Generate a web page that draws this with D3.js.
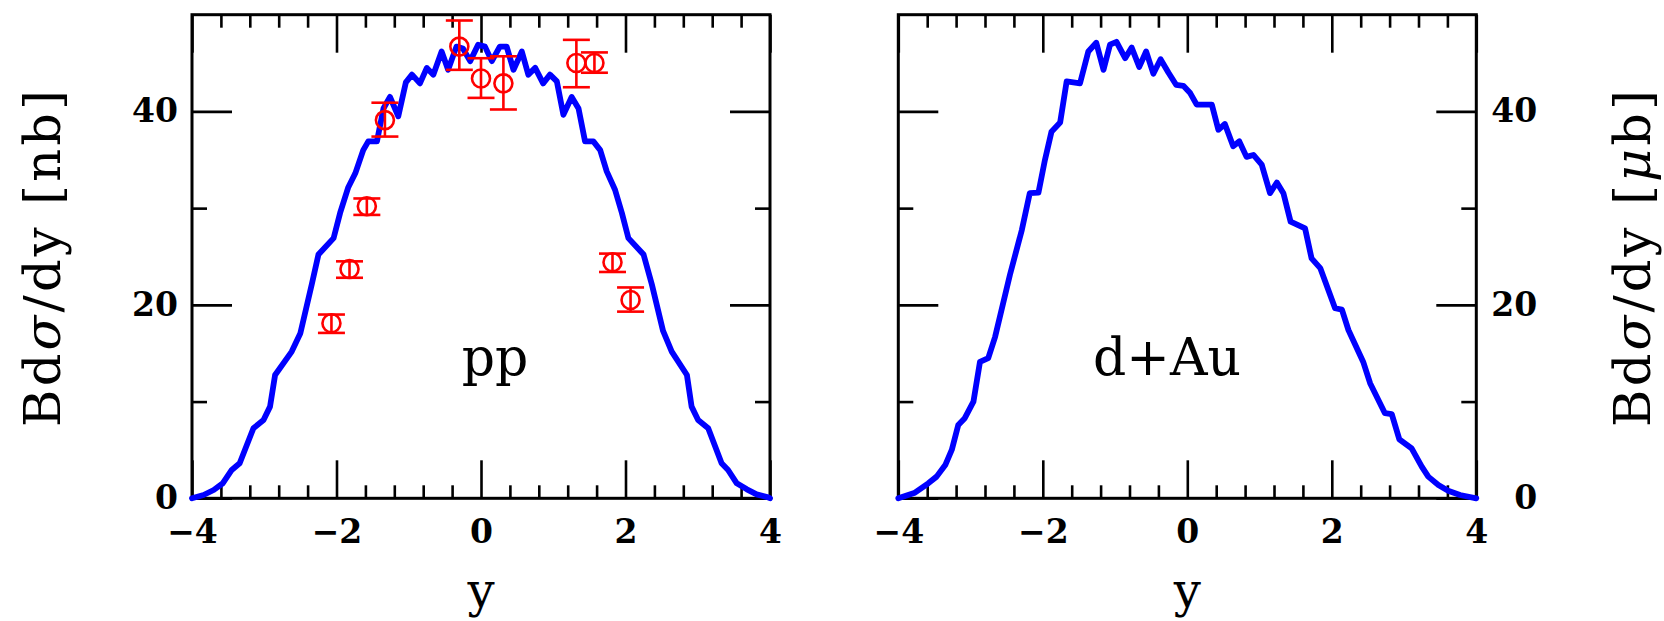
<!DOCTYPE html>
<html>
<head>
<meta charset="utf-8">
<script src="https://cdn.jsdelivr.net/npm/d3@7"></script>
<style>
  body { margin: 0; background: #fff; }
  svg text { font-family: "DejaVu Serif", serif; fill: #000; }
</style>
</head>
<body>
<svg id="chart" width="1664" height="621"></svg>
<script>
// calculated curve, pp
const ppRapidity = [-4.00, -3.84, -3.70, -3.575, -3.45, -3.34, -3.15, -3.01, -2.92, -2.85, -2.62, -2.50,
  -2.34, -2.25, -2.04, -1.95, -1.84, -1.74, -1.63, -1.56, -1.44, -1.35, -1.26, -1.145, -1.04, -0.955,
  -0.845, -0.75, -0.66, -0.545, -0.455, -0.34, -0.25, -0.15, -0.04, 0.055, 0.15, 0.26, 0.355, 0.45,
  0.565, 0.655, 0.75, 0.86, 0.955, 1.05, 1.14, 1.255, 1.35, 1.44, 1.555, 1.65, 1.74, 1.855, 1.95, 2.04,
  2.25, 2.365, 2.52, 2.64, 2.85, 2.915, 3.005, 3.145, 3.33, 3.42, 3.54, 3.68, 3.815, 3.975, 4.00];
const ppCurve = [0, 0.34, 0.86, 1.55, 2.93, 3.62, 7.24, 8.10, 9.48, 12.75, 15.17, 17.07,
  22.2, 25.2, 26.9, 29.5, 32.1, 33.6, 36.0, 36.9, 36.9, 40.3, 41.5, 39.5, 43.0, 43.8,
  42.9, 44.5, 43.8, 46.2, 44.3, 46.7, 46.5, 45.2, 46.9, 46.7, 45.2, 46.7, 46.7, 44.3,
  46.2, 43.8, 44.5, 42.9, 43.8, 43.1, 39.65, 41.5, 40.3, 36.9, 36.9, 36.0, 33.8, 31.9, 29.5, 26.9,
  25.2, 22.1, 17.3, 15.17, 12.75, 9.48, 8.1, 7.24, 3.62, 2.93, 1.55, 0.93, 0.41, 0.1, 0];

// calculated curve, d+Au
const dAuRapidity = [-4.00, -3.77, -3.585, -3.47, -3.35, -3.26, -3.17, -3.08, -2.96, -2.87, -2.755, -2.66,
  -2.455, -2.29, -2.18, -2.06, -1.97, -1.88, -1.76, -1.67, -1.485, -1.37, -1.26, -1.16, -1.07, -0.98,
  -0.86, -0.77, -0.665, -0.57, -0.47, -0.37, -0.26, -0.155, -0.055, 0.04, 0.13, 0.34, 0.43, 0.52,
  0.635, 0.72, 0.82, 0.915, 1.03, 1.145, 1.24, 1.33, 1.43, 1.63, 1.72, 1.84, 2.045, 2.14, 2.23,
  2.435, 2.53, 2.735, 2.83, 2.935, 3.105, 3.245, 3.335, 3.475, 3.61, 3.775, 4.00];
const dAuCurve = [0, 0.58, 1.55, 2.24, 3.44, 5.0, 7.58, 8.28, 9.99, 14.1, 14.5, 16.7,
  23.1, 27.75, 31.55, 31.6, 35.0, 37.9, 38.85, 43.1, 42.9, 46.2, 47.1, 44.3, 46.9, 47.2,
  45.5, 46.6, 44.6, 46.2, 43.9, 45.4, 44.0, 42.75, 42.65, 41.9, 40.7, 40.7, 38.1, 38.7,
  36.4, 36.9, 35.3, 35.5, 34.5, 31.55, 32.65, 31.55, 28.6, 27.9, 24.8, 23.8, 19.65, 19.5, 17.4,
  14.1, 11.9, 8.8, 8.7, 6.1, 5.17, 3.27, 2.24, 1.38, 0.79, 0.34, 0];

// measured pp points with error bars
const dataRapidity = [-2.07, -1.82, -1.58, -1.33, -0.30, 0.00, 0.31, 1.32, 1.57, 1.82, 2.07];
const dataValue = [18.1, 23.7, 30.2, 39.1, 46.7, 43.4, 42.9, 45.0, 45.0, 24.4, 20.5];
const dataUpper = [19.0, 24.5, 31.0, 40.9, 49.4, 45.5, 45.7, 47.4, 46.1, 25.3, 21.8];
const dataLower = [17.1, 22.8, 29.3, 37.4, 44.3, 41.4, 40.2, 42.5, 44.0, 23.4, 19.3];

const xMajorTicks = [-4, -2, 0, 2, 4];
const xMinorTicks = [-3.6, -3.2, -2.8, -2.4, -1.6, -1.2, -0.8, -0.4, 0.4, 0.8, 1.2, 1.6, 2.4, 2.8, 3.2, 3.6];
const yMajorTicks = [0, 20, 40];
const yMinorTicks = [10, 30];

const svg = d3.select("#chart");
const plotTop = 14.7, plotBottom = 498.3, panelW = 578;

const y = d3.scaleLinear().domain([0, 50]).range([plotBottom, plotTop]);

function drawPanel(left, opts) {
  const x = d3.scaleLinear().domain([-4, 4]).range([left, left + panelW]);
  const g = svg.append("g");

  function ticks(axis, pos, values, size, labels) {
    const a = g.append("g")
      .attr("transform", pos)
      .call(axis.tickValues(values).tickSizeInner(-size).tickSizeOuter(0)
        .tickPadding(labels ? labels.pad : 0)
        .tickFormat(labels ? d3.format("") : ""));
    a.select(".domain").remove();
    a.selectAll("line").attr("stroke", "#000").attr("stroke-width", 2.6);
    a.selectAll("text")
      .style("font-size", "33px").style("font-weight", "bold")
      .attr("fill", "#000");
    return a;
  }

  // bottom and top
  ticks(d3.axisBottom(x), `translate(0,${plotBottom})`, xMajorTicks, 38, { pad: 21 });
  ticks(d3.axisBottom(x), `translate(0,${plotBottom})`, xMinorTicks, 13);
  ticks(d3.axisTop(x), `translate(0,${plotTop})`, xMajorTicks, 38);
  ticks(d3.axisTop(x), `translate(0,${plotTop})`, xMinorTicks, 13);

  // left and right
  ticks(d3.axisLeft(y), `translate(${left},0)`, yMajorTicks, 40, opts.leftLabels ? { pad: 14 } : null);
  ticks(d3.axisLeft(y), `translate(${left},0)`, yMinorTicks, 15);
  const r = ticks(d3.axisRight(y), `translate(${left + panelW},0)`, yMajorTicks, 40, opts.leftLabels ? null : { pad: 14 });
  ticks(d3.axisRight(y), `translate(${left + panelW},0)`, yMinorTicks, 15);
  if (!opts.leftLabels) {
    r.selectAll("text").attr("text-anchor", "end").attr("x", 61);
  }

  g.append("rect")
    .attr("x", left).attr("y", plotTop)
    .attr("width", panelW).attr("height", plotBottom - plotTop)
    .attr("fill", "none").attr("stroke", "#000").attr("stroke-width", 3);

  const line = d3.line()
    .x(d => x(d[0]))
    .y(d => y(d[1]));

  g.append("path")
    .datum(d3.zip(opts.rapidity, opts.curve))
    .attr("d", line)
    .attr("fill", "none")
    .attr("stroke", "#0000ff")
    .attr("stroke-width", 5.8)
    .attr("stroke-linejoin", "round")
    .attr("stroke-linecap", "round");

  if (opts.points) {
    const pts = g.append("g").attr("stroke", "#ff0000").attr("stroke-width", 2.6).attr("fill", "none");
    const rows = d3.range(dataRapidity.length);
    const capW = 13.5;
    pts.selectAll(".bar").data(rows).join("line")
      .attr("x1", i => x(dataRapidity[i])).attr("x2", i => x(dataRapidity[i]))
      .attr("y1", i => y(dataUpper[i])).attr("y2", i => y(dataLower[i]));
    pts.selectAll(".capHi").data(rows).join("line")
      .attr("x1", i => x(dataRapidity[i]) - capW).attr("x2", i => x(dataRapidity[i]) + capW)
      .attr("y1", i => y(dataUpper[i])).attr("y2", i => y(dataUpper[i]));
    pts.selectAll(".capLo").data(rows).join("line")
      .attr("x1", i => x(dataRapidity[i]) - capW).attr("x2", i => x(dataRapidity[i]) + capW)
      .attr("y1", i => y(dataLower[i])).attr("y2", i => y(dataLower[i]));
    pts.selectAll("circle").data(rows).join("circle")
      .attr("cx", i => x(dataRapidity[i])).attr("cy", i => y(dataValue[i]))
      .attr("r", 9);
  }

  // system label and x title
  g.append("text")
    .attr("x", opts.labelX).attr("y", 375)
    .attr("text-anchor", "middle")
    .style("font-size", "52px")
    .text(opts.label);

  g.append("text")
    .attr("x", x(0)).attr("y", 607)
    .attr("text-anchor", "middle")
    .style("font-size", "48px")
    .text("y");
}

function yTitle(xPos, unit) {
  const t = svg.append("text")
    .attr("transform", `translate(${xPos},258.5) rotate(-90)`)
    .attr("text-anchor", "middle")
    .attr("textLength", 337)
    .attr("lengthAdjust", "spacing")
    .style("font-size", "51px");
  t.append("tspan").text("Bd");
  t.append("tspan").style("font-style", "italic").text("σ");
  t.append("tspan").text("/dy [");
  t.append("tspan").style("font-style", unit === "μb" ? "italic" : "normal").text(unit.slice(0, 1));
  t.append("tspan").text(unit.slice(1) + "]");
}

drawPanel(192, { rapidity: ppRapidity, curve: ppCurve, points: true, label: "pp", labelX: 495, leftLabels: true });
drawPanel(898.3, { rapidity: dAuRapidity, curve: dAuCurve, points: false, label: "d+Au", labelX: 1167, leftLabels: false });

yTitle(60, "nb");
yTitle(1650, "μb");
</script>
</body>
</html>
